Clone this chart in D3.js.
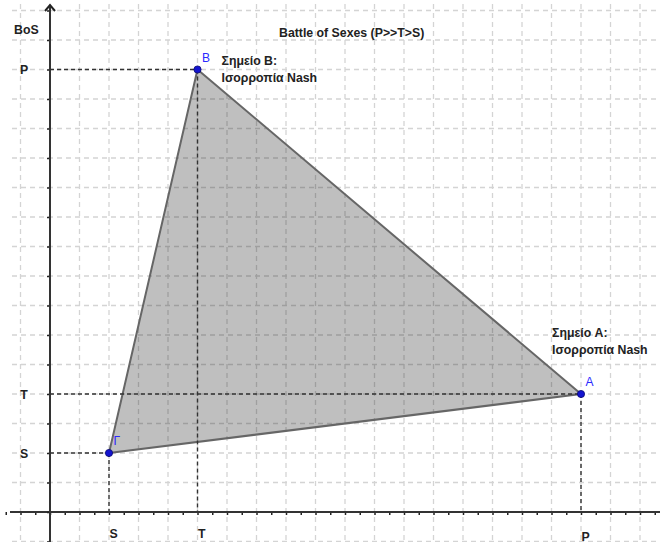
<!DOCTYPE html>
<html>
<head>
<meta charset="utf-8">
<script src="https://cdn.jsdelivr.net/npm/d3@7"></script>
<style>
  body { margin: 0; background: #fff; }
  svg { display: block; font-family: "Liberation Sans", Arial, sans-serif; }
</style>
</head>
<body>
<div id="chart"></div>
<script>
// payoff points (GeoGebra style units)
const pointNames = ["A", "B", "Γ"];
const pointX = [18, 5, 2];
const pointY = [4, 15, 2];

// axis tick labels
const xTickValues = [2, 5, 18];
const xTickLabels = ["S", "T", "P"];
const yTickValues = [2, 4, 15];
const yTickLabels = ["S", "T", "P"];

const titleText = "Battle of Sexes (P>>T>S)";
const yAxisName = "BoS";
const noteB = ["Σημείο B:", "Ισορροπία Nash"];
const noteA = ["Σημείο A:", "Ισορροπία Nash"];

const width = 660, height = 542;
const unit = 29.5;
const originX = 50, originY = 512;
const fs = 12.3;

const svg = d3.select("#chart").append("svg")
    .attr("width", width)
    .attr("height", height);

// scales: same pixel size per unit on both axes
const x = d3.scaleLinear()
    .domain([(10 - originX) / unit, (width - originX) / unit])
    .range([10, width]);
const y = d3.scaleLinear()
    .domain([(originY - height) / unit, (originY - 4) / unit])
    .range([height, 4]);

// grid
const gridX = d3.range(-1, 21);
const gridY = d3.range(-1, 18);
const grid = svg.append("g")
    .attr("stroke", "#d4d4d4")
    .attr("stroke-width", 1.3)
    .attr("stroke-dasharray", "5,4");
grid.selectAll(".gx").data(gridX).enter().append("line")
    .attr("x1", d => x(d)).attr("x2", d => x(d))
    .attr("y1", 4).attr("y2", height);
grid.selectAll(".gy").data(gridY).enter().append("line")
    .attr("x1", 12).attr("x2", width)
    .attr("y1", d => y(d)).attr("y2", d => y(d));

// polygon
const pts = pointX.map((d, i) => [x(d), y(pointY[i])]);
svg.append("path")
    .attr("d", d3.line()(pts) + "Z")
    .attr("fill", "rgba(0,0,0,0.25)")
    .attr("stroke", "#666")
    .attr("stroke-width", 2)
    .attr("stroke-linejoin", "round");

// projection lines to axes
const proj = svg.append("g")
    .attr("stroke", "#333")
    .attr("stroke-width", 1.4)
    .attr("stroke-dasharray", "4,3");
pointX.forEach((d, i) => {
    proj.append("line")
        .attr("x1", x(0)).attr("x2", x(d))
        .attr("y1", y(pointY[i])).attr("y2", y(pointY[i]));
    proj.append("line")
        .attr("x1", x(d)).attr("x2", x(d))
        .attr("y1", y(pointY[i])).attr("y2", y(0));
});

// x axis with half-unit ticks
const xAxis = svg.append("g")
    .attr("transform", "translate(0," + y(0) + ")")
    .call(d3.axisBottom(x)
        .tickValues(d3.range(-1.5, 21, 0.5))
        .tickSize(3)
        .tickFormat(""));
xAxis.select(".domain").remove();
xAxis.selectAll(".tick line").attr("stroke", "#222").attr("stroke-width", 1.5);
svg.append("line")
    .attr("x1", 10).attr("x2", width)
    .attr("y1", y(0)).attr("y2", y(0))
    .attr("stroke", "#333").attr("stroke-width", 2);

// y axis with unit ticks
const yAxis = svg.append("g")
    .attr("transform", "translate(" + x(0) + ",0)")
    .call(d3.axisLeft(y)
        .tickValues(d3.range(-1, 18))
        .tickSize(3)
        .tickFormat(""));
yAxis.select(".domain").remove();
yAxis.selectAll(".tick line").attr("stroke", "#222").attr("stroke-width", 1.5);
svg.append("line")
    .attr("x1", x(0)).attr("x2", x(0))
    .attr("y1", 7).attr("y2", height)
    .attr("stroke", "#333").attr("stroke-width", 2);
svg.append("path")
    .attr("d", "M" + (x(0) - 5) + ",11 L" + x(0) + ",5 L" + (x(0) + 5) + ",11")
    .attr("fill", "none")
    .attr("stroke", "#222")
    .attr("stroke-width", 2);

// tick labels
svg.selectAll(".xl").data(xTickValues).enter().append("text")
    .attr("x", d => x(d) + 0.5)
    .attr("y", (d, i) => i === 2 ? 540.5 : 538)
    .attr("font-size", fs).attr("font-weight", "bold").attr("fill", "#222")
    .text((d, i) => xTickLabels[i]);
svg.selectAll(".yl").data(yTickValues).enter().append("text")
    .attr("x", 24)
    .attr("y", d => y(d) + 4.5)
    .attr("text-anchor", "middle")
    .attr("font-size", fs).attr("font-weight", "bold").attr("fill", "#222")
    .text((d, i) => yTickLabels[i]);

svg.append("text")
    .attr("x", 14).attr("y", 34)
    .attr("font-size", fs).attr("font-weight", "bold").attr("fill", "#222")
    .text(yAxisName);

svg.append("text")
    .attr("x", 279).attr("y", 37)
    .attr("font-size", fs).attr("font-weight", "bold").attr("fill", "#222")
    .text(titleText);

// notes
function note(lines, px, py) {
    lines.forEach((t, i) => {
        svg.append("text")
            .attr("x", px).attr("y", py + i * 16.5)
            .attr("font-size", fs).attr("font-weight", "bold").attr("fill", "#222")
            .text(t);
    });
}
note(noteB, x(pointX[1]) + 24, y(pointY[1]) - 4.5);
note(noteA, x(pointX[0]) - 29, y(pointY[0]) - 57);

// points and labels
svg.selectAll(".pt").data(pointX).enter().append("circle")
    .attr("cx", d => x(d))
    .attr("cy", (d, i) => y(pointY[i]))
    .attr("r", 3.6)
    .attr("fill", "#1414d0")
    .attr("stroke", "#0a0a70")
    .attr("stroke-width", 0.8);
svg.selectAll(".pl").data(pointX).enter().append("text")
    .attr("x", d => x(d) + 4.5)
    .attr("y", (d, i) => y(pointY[i]) - 8)
    .attr("font-size", 12).attr("fill", "#2a2aff")
    .text((d, i) => pointNames[i]);
</script>
</body>
</html>
